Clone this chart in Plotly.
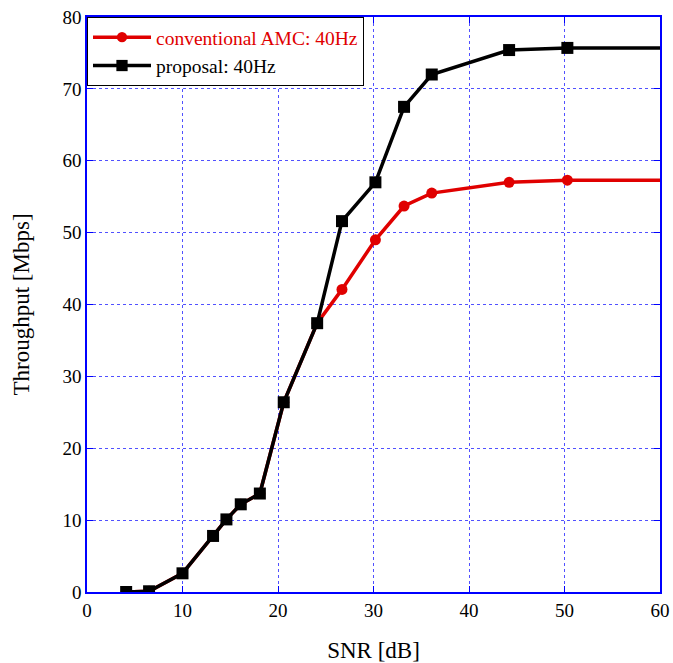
import plotly.graph_objects as go

snr = [4.1, 6.5, 10.0, 13.2, 14.6, 16.1, 18.1, 20.6, 24.1, 26.7, 30.2, 33.2, 36.1, 44.2, 50.3, 60.0]
conventional = [0.0, 0.1, 2.6, 7.8, 10.1, 12.2, 13.7, 26.4, 37.4, 42.1, 49.0, 53.7, 55.5, 57.0, 57.3, 57.3]
proposal = [0.0, 0.1, 2.6, 7.8, 10.1, 12.2, 13.7, 26.4, 37.4, 51.6, 57.0, 67.5, 72.0, 75.4, 75.7, 75.7]

red = "#e00000"
blue = "#0000ff"
sizes_c = [11] * (len(snr) - 1) + [0]
sizes_p = [12] * (len(snr) - 1) + [0]

fig = go.Figure()
fig.add_trace(go.Scatter(
    x=snr, y=conventional, mode="lines+markers",
    name="<span style='color:#e00000'>conventional AMC: 40Hz</span>",
    line=dict(color=red, width=3.5),
    marker=dict(symbol="circle", size=sizes_c, color=red, opacity=1,
                line=dict(width=0, color=red)),
))
fig.add_trace(go.Scatter(
    x=snr, y=proposal, mode="lines+markers",
    name="proposal: 40Hz",
    line=dict(color="black", width=3.5),
    marker=dict(symbol="square", size=sizes_p, color="black", opacity=1,
                line=dict(width=0, color="black")),
))

axis_common = dict(
    showline=True, linecolor=blue, linewidth=1.5, mirror="allticks",
    ticks="inside", tickcolor=blue, ticklen=6, tickwidth=1.2,
    showgrid=True, gridcolor="rgba(50,50,255,0.85)", griddash="dot", gridwidth=1.3,
    zeroline=False, automargin=False, layer="above traces",
    tickfont=dict(family="Liberation Serif", size=19, color="black"),
)

fig.update_layout(
    width=673, height=663,
    margin=dict(l=87, r=13, t=17, b=71),
    paper_bgcolor="white", plot_bgcolor="white",
    font=dict(family="Liberation Serif", size=19, color="black"),
    showlegend=True,
    legend=dict(
        x=0, y=1, xanchor="left", yanchor="top",
        bgcolor="white", bordercolor="black", borderwidth=1,
        font=dict(family="Liberation Serif", size=19.5, color="black"),
        itemwidth=58, tracegroupgap=0,
    ),
    xaxis=dict(range=[0, 60], dtick=10,
               title=dict(text="SNR [dB]", standoff=24), **axis_common),
    yaxis=dict(range=[0, 80], dtick=10,
               title=dict(text="Throughput [Mbps]", standoff=26), **axis_common),
)

fig.write_html(
    "out.html",
    config={"displayModeBar": False},
    post_script="document.body.style.margin='0';document.body.style.overflow='hidden';",
)
